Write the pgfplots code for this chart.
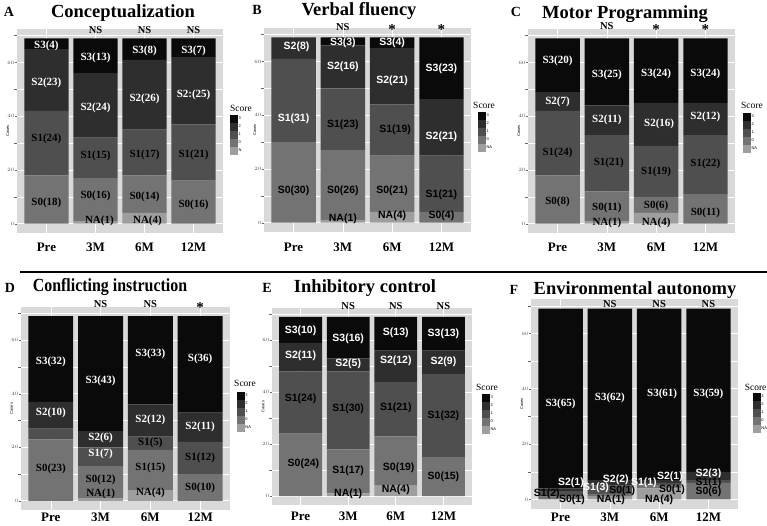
\documentclass[border=0pt]{standalone}
\usepackage{pgfplots}
\pgfplotsset{compat=1.18}
\usepackage{fontspec}
\setmainfont{Liberation Serif}
\newfontfamily\sansf{Liberation Sans}
\definecolor{cS3}{HTML}{0A0A0A}
\definecolor{cS2}{HTML}{2E2E2E}
\definecolor{cS1}{HTML}{4F4F4F}
\definecolor{cS0}{HTML}{737373}
\definecolor{cNA}{HTML}{9E9E9E}
\definecolor{panelbg}{HTML}{D9D9D9}
\tikzset{
 lw/.style={text=white, font=\fontsize{11}{11}\selectfont\bfseries, inner sep=0pt},
 lb/.style={text=black, font=\fontsize{11}{11}\selectfont\bfseries, inner sep=0pt},
 sw/.style={text=white, font=\fontsize{10.5}{10.5}\selectfont\sansf\bfseries, inner sep=0pt},
 sb/.style={text=black, font=\fontsize{10.5}{10.5}\selectfont\sansf\bfseries, inner sep=0pt},
 ns/.style={font=\fontsize{10.5}{10.5}\selectfont\bfseries, inner sep=0pt},
 st/.style={font=\fontsize{15}{15}\selectfont\bfseries, inner sep=0pt},
 ttl/.style={font=\fontsize{18.5}{18.5}\selectfont\bfseries, anchor=base, inner sep=0pt},
 lett/.style={font=\fontsize{14}{14}\selectfont\bfseries, anchor=base, inner sep=0pt},
 score/.style={font=\fontsize{9.5}{9.5}\selectfont, inner sep=0pt},
}
\pgfplotsset{
 lims/.style={scale only axis, xmin=0.4, xmax=4.6, ymin=-3.45, ymax=72.45, clip=false},
 over/.style={lims, hide axis},
 gA/.style={at={(17pt,293pt)}, anchor=south west, width=206pt, height=204pt},
 gB/.style={at={(264pt,294pt)}, anchor=south west, width=207pt, height=204pt},
 gC/.style={at={(528pt,293pt)}, anchor=south west, width=207pt, height=204pt},
 gD/.style={at={(21pt,16pt)}, anchor=south west, width=209pt, height=203pt},
 gE/.style={at={(272pt,21pt)}, anchor=south west, width=200pt, height=197pt},
 gF/.style={at={(531pt,17pt)}, anchor=south west, width=207pt, height=210pt},
 panel/.style={
  lims, ybar stacked, bar width=0.9,
  xtick={1,2,3,4}, xticklabels={Pre,3M,6M,12M},
  ytick={0,20,40,60}, minor ytick={10,30,50,70},
  ymajorgrids, yminorgrids, xmajorgrids,
  major grid style={white, line width=0.7pt},
  minor grid style={white, line width=0.35pt},
  axis line style={draw=none},
  axis background/.style={fill=panelbg},
  x tick label style={font=\fontsize{13}{13}\selectfont\bfseries, anchor=center},
  y tick label style={font=\fontsize{3.5}{3.5}\selectfont, text=black!70, inner sep=0.5pt},
  ytick style={draw=black!60, line width=0.3pt},
  xtick style={draw=none},
  ytick pos=left, xtick pos=left,
  major tick length=2pt, tick align=outside,
  ylabel={\sansf Cases},
  ylabel style={font=\fontsize{4}{4}\selectfont, at={(axis description cs:-0.045,0.5)}, anchor=center},
  legend reversed,
  legend cell align=left,
  legend style={draw=none, fill=none, font=\fontsize{4}{4}\selectfont\sansf, inner sep=0pt, row sep=0pt,
    nodes={inner sep=0.3pt}, anchor=north west},
  legend image code/.code={\fill[##1] (0pt,-4pt) rectangle (8pt,4pt);},
 },
 fNA/.style={fill=cNA, draw=none},
 fS0/.style={fill=cS0, draw=none},
 fS1/.style={fill=cS1, draw=none},
 fS2/.style={fill=cS2, draw=none},
 fS3/.style={fill=cS3, draw=none},
}
\begin{document}
\begin{tikzpicture}
\useasboundingbox (0,0) rectangle (767pt,526pt);
% ---------- A ----------
\begin{axis}[panel, gA, x tick label style={yshift=-12pt},
  legend style={at={(axis description cs:1.034,0.578)}}]
\addplot[fNA] coordinates {(1,0)(2,1)(3,4)(4,0)};
\addplot[fS0] coordinates {(1,18)(2,16)(3,14)(4,16)};
\addplot[fS1] coordinates {(1,24)(2,15)(3,17)(4,21)};
\addplot[fS2] coordinates {(1,23)(2,24)(3,26)(4,25)};
\addplot[fS3] coordinates {(1,4)(2,13)(3,8)(4,7)};
\legend{N,0,1,2,3}
\end{axis}
\begin{axis}[over, gA]
\node[score] at (axis description cs:1.087,0.613) {Score};
\node[lw] at (axis cs:1,66) {S3(4)};
\node[lw] at (axis cs:1,52.3) {S2(23)};
\node[lb] at (axis cs:1,31.6) {S1(24)};
\node[lb] at (axis cs:1,7.9) {S0(18)};
\node[lw] at (axis cs:2,61.8) {S3(13)};
\node[lw] at (axis cs:2,43.2) {S2(24)};
\node[lb] at (axis cs:2,25.4) {S1(15)};
\node[lb] at (axis cs:2,10.2) {S0(16)};
\node[lb] at (axis cs:2.08,0.9) {NA(1)};
\node[lw] at (axis cs:3,64.2) {S3(8)};
\node[lw] at (axis cs:3,46.5) {S2(26)};
\node[lb] at (axis cs:3,25.7) {S1(17)};
\node[lb] at (axis cs:3,10) {S0(14)};
\node[lb] at (axis cs:3.06,1.1) {NA(4)};
\node[lw] at (axis cs:4,64.3) {S3(7)};
\node[lw] at (axis cs:4,48.1) {S2:(25)};
\node[lb] at (axis cs:4,25.6) {S1(21)};
\node[lb] at (axis cs:4,7.1) {S0(16)};
\node[ns] at (axis cs:2,72) {NS};
\node[ns] at (axis cs:3,72) {NS};
\node[ns] at (axis cs:4,72) {NS};
\end{axis}
% ---------- B ----------
\begin{axis}[panel, gB, x tick label style={yshift=-13pt},
  legend style={at={(axis description cs:1.034,0.588)}}]
\addplot[fNA] coordinates {(1,0)(2,1)(3,4)(4,0)};
\addplot[fS0] coordinates {(1,30)(2,26)(3,21)(4,4)};
\addplot[fS1] coordinates {(1,31)(2,23)(3,19)(4,21)};
\addplot[fS2] coordinates {(1,8)(2,16)(3,21)(4,21)};
\addplot[fS3] coordinates {(1,0)(2,3)(3,4)(4,23)};
\legend{NA,0,1,2,3}
\end{axis}
\begin{axis}[over, gB]
\node[score] at (axis description cs:1.063,0.623) {Score};
\node[sw] at (axis cs:1.06,65.4) {S2(8)};
\node[sw] at (axis cs:1,38.8) {S1(31)};
\node[sb] at (axis cs:1,11.8) {S0(30)};
\node[sw] at (axis cs:2,66.9) {S3(3)};
\node[sw] at (axis cs:2,57.9) {S2(16)};
\node[sb] at (axis cs:2,36.6) {S1(23)};
\node[sb] at (axis cs:2,11.8) {S0(26)};
\node[sb] at (axis cs:2,1.5) {NA(1)};
\node[sw] at (axis cs:3,66.9) {S3(4)};
\node[sw] at (axis cs:3,52.9) {S2(21)};
\node[sb] at (axis cs:3.06,34.7) {S1(19)};
\node[sb] at (axis cs:3,11.8) {S0(21)};
\node[sb] at (axis cs:3,2.7) {NA(4)};
\node[sw] at (axis cs:4,57.3) {S3(23)};
\node[sw] at (axis cs:4,32) {S2(21)};
\node[sb] at (axis cs:4,10.3) {S1(21)};
\node[sb] at (axis cs:4,2.4) {S0(4)};
\node[ns] at (axis cs:2,72.7) {NS};
\node[st] at (axis cs:3,71.8) {*};
\node[st] at (axis cs:4,71.8) {*};
\end{axis}
% ---------- C ----------
\begin{axis}[panel, gC, x tick label style={yshift=-12pt},
  legend style={at={(axis description cs:1.039,0.588)}}]
\addplot[fNA] coordinates {(1,0)(2,1)(3,4)(4,0)};
\addplot[fS0] coordinates {(1,18)(2,11)(3,6)(4,11)};
\addplot[fS1] coordinates {(1,24)(2,21)(3,19)(4,22)};
\addplot[fS2] coordinates {(1,7)(2,11)(3,16)(4,12)};
\addplot[fS3] coordinates {(1,20)(2,25)(3,24)(4,24)};
\legend{NA,0,1,2,3}
\end{axis}
\begin{axis}[over, gC]
\node[score] at (axis description cs:1.082,0.627) {Score};
\node[lw] at (axis cs:1,60.5) {S3(20)};
\node[lw] at (axis cs:1,45.3) {S2(7)};
\node[lb] at (axis cs:1,26.2) {S1(24)};
\node[lb] at (axis cs:1,8) {S0(8)};
\node[lw] at (axis cs:2,55.5) {S3(25)};
\node[lw] at (axis cs:2,38.7) {S2(11)};
\node[lb] at (axis cs:2.04,22.5) {S1(21)};
\node[lb] at (axis cs:2,5.9) {S0(11)};
\node[lb] at (axis cs:2,0.3) {NA(1)};
\node[lw] at (axis cs:3,55.9) {S3(24)};
\node[lw] at (axis cs:3.06,37.1) {S2(16)};
\node[lb] at (axis cs:3,19.2) {S1(19)};
\node[lb] at (axis cs:3,6.5) {S0(6)};
\node[lb] at (axis cs:3,0.5) {NA(4)};
\node[lw] at (axis cs:4,55.9) {S3(24)};
\node[lw] at (axis cs:4,39.6) {S2(12)};
\node[lb] at (axis cs:4,22.4) {S1(22)};
\node[lb] at (axis cs:4,4) {S0(11)};
\node[ns] at (axis cs:2,73.5) {NS};
\node[st] at (axis cs:3,72.2) {*};
\node[st] at (axis cs:4,72.2) {*};
\end{axis}
% ---------- D ----------
\begin{axis}[panel, gD, x tick label style={yshift=-5.5pt},
  legend style={at={(axis description cs:1.033,0.581)}}]
\addplot[fNA] coordinates {(1,0)(2,1)(3,4)(4,0)};
\addplot[fS0] coordinates {(1,23)(2,12)(3,15)(4,10)};
\addplot[fS1] coordinates {(1,4)(2,7)(3,5)(4,12)};
\addplot[fS2] coordinates {(1,10)(2,6)(3,12)(4,11)};
\addplot[fS3] coordinates {(1,32)(2,43)(3,33)(4,36)};
\legend{NA,0,1,2,3}
\end{axis}
\begin{axis}[over, gD]
\node[score] at (axis description cs:1.072,0.626) {Score};
\node[lw] at (axis cs:1,51.8) {S3(32)};
\node[lw] at (axis cs:1,32.8) {S2(10)};
\node[lb] at (axis cs:1,11.9) {S0(23)};
\node[lw] at (axis cs:2,44.7) {S3(43)};
\node[lw] at (axis cs:2,23.5) {S2(6)};
\node[lw] at (axis cs:2,17.5) {S1(7)};
\node[lb] at (axis cs:2,7.9) {S0(12)};
\node[lb] at (axis cs:2,2.6) {NA(1)};
\node[lw] at (axis cs:3,54.9) {S3(33)};
\node[lw] at (axis cs:3,30.3) {S2(12)};
\node[lb] at (axis cs:3,21.8) {S1(5)};
\node[lb] at (axis cs:3,12.2) {S1(15)};
\node[lb] at (axis cs:3,2.9) {NA(4)};
\node[lw] at (axis cs:4,53) {S(36)};
\node[lw] at (axis cs:4,27.8) {S2(11)};
\node[lb] at (axis cs:4,16.2) {S1(12)};
\node[lb] at (axis cs:4,4.7) {S0(10)};
\node[ns] at (axis cs:2,73.4) {NS};
\node[ns] at (axis cs:3,73.4) {NS};
\node[st] at (axis cs:4,72.2) {*};
\end{axis}
% ---------- E ----------
\begin{axis}[panel, gE, x tick label style={yshift=-9pt},
  legend style={at={(axis description cs:1.05,0.563)}}]
\addplot[fNA] coordinates {(1,0)(2,1)(3,4)(4,0)};
\addplot[fS0] coordinates {(1,24)(2,17)(3,19)(4,15)};
\addplot[fS1] coordinates {(1,24)(2,30)(3,21)(4,32)};
\addplot[fS2] coordinates {(1,11)(2,5)(3,12)(4,9)};
\addplot[fS3] coordinates {(1,10)(2,16)(3,13)(4,13)};
\legend{NA,0,1,2,3}
\end{axis}
\begin{axis}[over, gE]
\node[score] at (axis description cs:1.075,0.599) {Score};
\node[sw] at (axis cs:1,63.7) {S3(10)};
\node[sw] at (axis cs:1,54.1) {S2(11)};
\node[sb] at (axis cs:1,37.5) {S1(24)};
\node[sb] at (axis cs:1.06,12.6) {S0(24)};
\node[sw] at (axis cs:2,60.5) {S3(16)};
\node[sw] at (axis cs:2,51) {S2(5)};
\node[sb] at (axis cs:2,33.7) {S1(30)};
\node[sb] at (axis cs:2,9.8) {S1(17)};
\node[sb] at (axis cs:2,0.9) {NA(1)};
\node[sw] at (axis cs:3,62.8) {S(13)};
\node[sw] at (axis cs:3,52) {S2(12)};
\node[sb] at (axis cs:3,34.1) {S1(21)};
\node[sb] at (axis cs:3.06,10.8) {S0(19)};
\node[sb] at (axis cs:3,2.4) {NA(4)};
\node[sw] at (axis cs:4,62.4) {S3(13)};
\node[sw] at (axis cs:4,51.6) {S2(9)};
\node[sb] at (axis cs:4,30.9) {S1(32)};
\node[sb] at (axis cs:4,7.5) {S0(15)};
\node[ns] at (axis cs:2,73.3) {NS};
\node[ns] at (axis cs:3,73.3) {NS};
\node[ns] at (axis cs:4,73.3) {NS};
\end{axis}
% ---------- F ----------
\begin{axis}[panel, gF, x tick label style={yshift=-6pt},
  legend style={at={(axis description cs:1.072,0.552)}}]
\addplot[fNA] coordinates {(1,0)(2,1)(3,4)(4,0)};
\addplot[fS0] coordinates {(1,1)(2,1)(3,1)(4,6)};
\addplot[fS1] coordinates {(1,2)(2,3)(3,1)(4,1)};
\addplot[fS2] coordinates {(1,1)(2,2)(3,1)(4,3)};
\addplot[fS3] coordinates {(1,65)(2,62)(3,62)(4,59)};
\legend{NA,0,1,2,3}
\end{axis}
\begin{axis}[over, gF]
\node[score] at (axis description cs:1.085,0.581) {Score};
\node[lw] at (axis cs:1,34.5) {S3(65)};
\node[lw] at (axis cs:2,36.8) {S3(62)};
\node[lw] at (axis cs:3.06,38.2) {S3(61)};
\node[lw] at (axis cs:4,38.2) {S3(59)};
\node[sw] at (axis cs:1.21,6) {S2(1)};
\node[sb] at (axis cs:0.72,2) {S1(2)};
\node[sb] at (axis cs:1.23,-0.3) {S0(1)};
\node[sw] at (axis cs:2.12,7.2) {S2(2)};
\node[sw] at (axis cs:1.72,4.1) {S1(3)};
\node[sb] at (axis cs:2.25,3.2) {S0(1)};
\node[sb] at (axis cs:2.02,0) {NA(1)};
\node[sw] at (axis cs:2.69,6.2) {S1(1)};
\node[sw] at (axis cs:3.22,8.2) {S2(1)};
\node[sb] at (axis cs:3.26,3.5) {S0(1)};
\node[sb] at (axis cs:3,0) {NA(4)};
\node[sw] at (axis cs:4,9.4) {S2(3)};
\node[sb] at (axis cs:4,6) {S1(1)};
\node[sb] at (axis cs:4,2.8) {S0(6)};
\node[ns] at (axis cs:2,70.6) {NS};
\node[ns] at (axis cs:3,70.6) {NS};
\node[ns] at (axis cs:4,70.6) {NS};
\end{axis}
% ---------- titles ----------
\node[lett] at (9pt,509.3pt) {A};
\node[ttl] at (123pt,508.7pt) {Conceptualization};
\node[lett] at (257pt,511pt) {B};
\node[ttl] at (359pt,510pt) {Verbal fluency};
\node[lett] at (516pt,509.3pt) {C};
\node[ttl] at (625pt,507.7pt) {Motor Programming};
\node[lett] at (10pt,233.3pt) {D};
\node[ttl, xscale=0.86, transform shape] at (110pt,234.3pt) {Conflicting instruction};
\node[lett] at (267pt,233.7pt) {E};
\node[ttl] at (365pt,233.3pt) {Inhibitory control};
\node[lett] at (514pt,231pt) {F};
\node[ttl] at (635pt,231pt) {Environmental autonomy};
\draw[line width=1.3pt] (20pt,254pt) -- (767pt,254pt);
\end{tikzpicture}
\end{document}
